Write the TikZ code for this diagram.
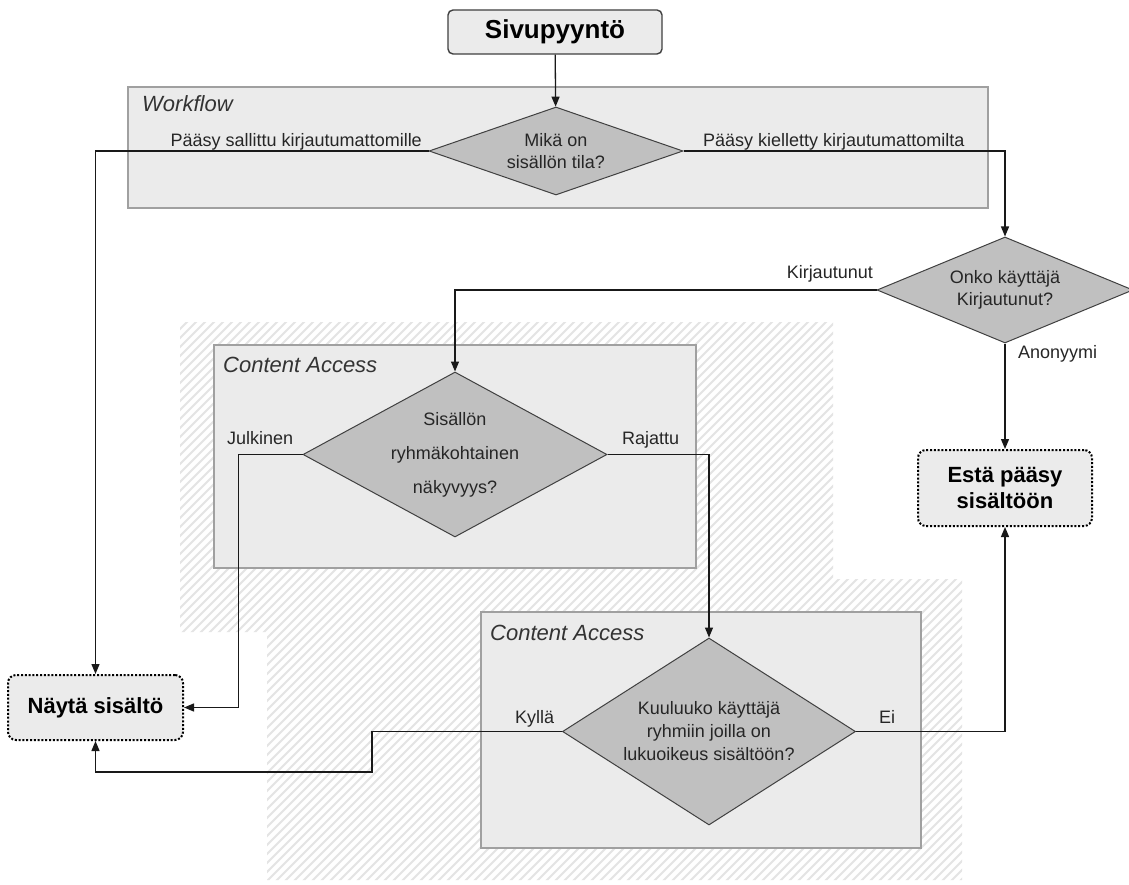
\documentclass[tikz,border=0pt]{standalone}
\usepackage{fontspec}
\setmainfont{Liberation Sans}
\usetikzlibrary{shapes.geometric,arrows.meta}
\definecolor{boxfill}{HTML}{EBEBEB}
\definecolor{boxline}{HTML}{A0A0A0}
\definecolor{diafill}{HTML}{C0C0C0}
\definecolor{dialine}{HTML}{404040}
\definecolor{hatchc}{HTML}{E4E4E4}
\begin{document}
\begin{tikzpicture}[x=1pt,y=-1pt,
  lbl/.style={font=\fontsize{18}{21}\selectfont, text=black!85, inner sep=0pt},
  ttl/.style={font=\itshape\fontsize{22}{26}\selectfont, text=black!80, inner sep=0pt, anchor=base west},
  area/.style={draw=boxline, fill=boxfill, line width=1.8pt, inner sep=0pt, anchor=north west},
  dia/.style={diamond, draw=dialine, fill=diafill, line width=1pt, inner sep=0pt, align=center, text=black!85, font=\fontsize{18}{21.5}\selectfont},
  topbox/.style={draw=dialine, fill=boxfill, line width=1.4pt, rounded corners=5pt, inner sep=0pt, font=\bfseries\fontsize{26}{30}\selectfont},
  endbox/.style={draw=black, fill=boxfill, line width=2pt, dash pattern=on 2pt off 1.8pt, rounded corners=8pt, align=center, inner sep=0pt, font=\bfseries\fontsize{22}{26}\selectfont},
  conn/.style={draw=black!90, line width=1.3pt, -{Triangle[length=10pt,width=8pt]}},
]
\useasboundingbox[fill=white] (0,0) rectangle (1129,885);

% hatched background areas
\begin{scope}
\clip (180,322) rectangle (833,632) (267,579) rectangle (962,880);
\foreach \c in {500,509,...,1850} \draw[hatchc, line width=2pt] (\c,0) -- ({\c-900},900);
\end{scope}

% swimlane boxes
\node[area, minimum width=860, minimum height=121] (wf) at (127,86) {};
\node[area, minimum width=482, minimum height=223] (ca1) at (213,344) {};
\node[area, minimum width=440, minimum height=236] (ca2) at (480,611) {};
\node[ttl] (wft) at (142,112) {Workflow};
\node[ttl] (ca1t) at (223,372) {Content Access};
\node[ttl] (ca2t) at (490,640) {Content Access};

% main nodes
\node[topbox, minimum width=214, minimum height=44] (req) at (555,32) {Sivupyyntö};
\node[dia, minimum width=254, minimum height=88, aspect=2.9] (d1) at (556,151) {Mikä on\\sisällön tila?};
\node[dia, minimum width=256, minimum height=106, aspect=2.4] (d2) at (1005,290) {Onko käyttäjä\\Kirjautunut?};
\node[dia, minimum width=304, minimum height=165, aspect=1.84, font=\fontsize{18}{34}\selectfont] (d3) at (455,454.5) {Sisällön\\ryhmäkohtainen\\näkyvyys?};
\node[dia, minimum width=293, minimum height=187, aspect=1.57, font=\fontsize{18}{23}\selectfont] (d4) at (709,731.5) {Kuuluuko käyttäjä\\ryhmiin joilla on\\lukuoikeus sisältöön?};
\node[endbox, minimum width=175, minimum height=65] (show) at (95.5,707.5) {Näytä sisältö};
\node[endbox, minimum width=174, minimum height=76] (block) at (1005,488) {Estä pääsy\\sisältöön};

% connectors
\coordinate (j1) at ([xshift=-64pt]d3.west);
\coordinate (k1) at (372,772);
\draw[conn] (req) -- (d1);
\draw[conn] (d1.west) -| (show.north);
\draw[conn] (d1.east) -| (d2.north);
\draw[conn] (d2.west) -| (d3.north);
\draw[conn] (d2.south) -- (block.north);
\draw[conn] (d3.west) -- (j1) |- (show.east);
\draw[conn] (d3.east) -| (d4.north);
\draw[conn] (d4.west) -| (k1) -| (show.south);
\draw[conn] (d4.east) -| (block.south);

% connector labels
\node[lbl, anchor=base east] (l1) at (422,147) {Pääsy sallittu kirjautumattomille};
\node[lbl, anchor=base west] (l2) at (703,147) {Pääsy kielletty kirjautumattomilta};
\node[lbl, anchor=base east] (l3) at (873,278) {Kirjautunut};
\node[lbl, anchor=base west] (l4) at (1018,358) {Anonyymi};
\node[lbl, anchor=base west] (l5) at (227,444) {Julkinen};
\node[lbl, anchor=base west] (l6) at (622,444) {Rajattu};
\node[lbl, anchor=base west] (l7) at (515,723) {Kyllä};
\node[lbl, anchor=base west] (l8) at (879,723) {Ei};
\end{tikzpicture}
\end{document}
